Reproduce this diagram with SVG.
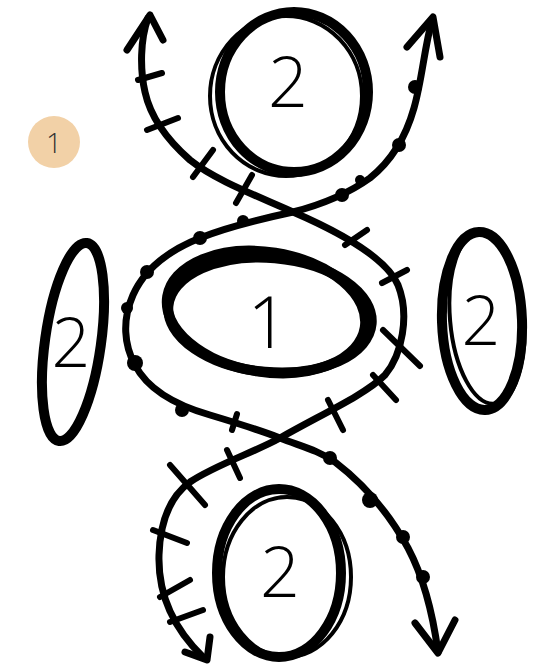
<svg xmlns="http://www.w3.org/2000/svg" width="549" height="670" viewBox="0 0 549 670">
<style>
.ring{fill:none;stroke:#000;stroke-width:10;stroke-linecap:round}
.ring2{fill:none;stroke:#000;stroke-width:4}
.path{fill:none;stroke:#000;stroke-width:7;stroke-linecap:round;stroke-linejoin:round}
.tick{stroke:#000;stroke-width:6;stroke-linecap:round}
.dot{fill:#000}
.num{font-family:"Open Sans","DejaVu Sans",sans-serif;font-weight:300;fill:#000;text-anchor:middle}
</style>
<rect width="549" height="670" fill="#fff"/>
<g id="badge">
<circle cx="54" cy="142" r="26" fill="#f2d1a7"/>
<text x="54" y="153" font-family="Open Sans, DejaVu Sans, sans-serif" font-weight="300" font-size="28" fill="#333" text-anchor="middle">1</text>
</g>
<g id="top2">
<ellipse cx="294" cy="92" rx="74" ry="80" class="ring" stroke-width="12"/>
<ellipse cx="286" cy="96" rx="76" ry="80" class="ring2"/>
<text x="288" y="107" font-size="70" class="num">2</text>
</g>
<g id="mid1">
<ellipse cx="270" cy="315" rx="102" ry="57" transform="rotate(5 270 315)" class="ring" stroke-width="13"/>
<ellipse cx="266" cy="312" rx="100" ry="60" transform="rotate(9 266 312)" class="ring" stroke-width="6"/>
<text x="268" y="348" font-size="72" class="num">1</text>
</g>
<g id="left2">
<ellipse cx="73" cy="342" rx="28" ry="100" transform="rotate(8 73 342)" class="ring" stroke-width="11"/>
<text x="71" y="367" font-size="68" class="num">2</text>
</g>
<g id="right2">
<ellipse cx="482" cy="321" rx="40" ry="89" transform="rotate(-2 482 321)" class="ring"/>
<ellipse cx="487" cy="318" rx="37" ry="86" transform="rotate(-5 487 318)" class="ring2"/>
<text x="481" y="345" font-size="68" class="num">2</text>
</g>
<g id="bottom2">
<ellipse cx="279" cy="573" rx="62" ry="84" class="ring" stroke-width="12"/>
<ellipse cx="287" cy="577" rx="64" ry="80" class="ring2"/>
<text x="280" y="597" font-size="70" class="num">2</text>
</g>
<g id="connectors">
<path class="path" d="M148,18 C140,40 140,70 145,92 C150,115 165,138 190,160 C215,180 255,195 293,212 C330,228 385,255 398,285 C410,315 402,355 385,375 C365,395 320,415 280,438 C255,452 215,465 190,482 C168,498 160,525 159,555 C158,590 170,625 203,657"/>
<path class="path" d="M127,50 L150,15 L163,40"/>
<path class="path" d="M185,652 L207,660 L210,637"/>
<path class="path" d="M432,20 C424,50 422,80 414,108 C405,140 390,162 370,178 C345,196 320,205 293,212 C265,218 230,226 200,238 C170,250 145,268 133,295 C122,320 124,345 135,365 C148,390 175,405 210,415 C240,424 262,431 280,438 C300,446 318,450 335,462 C365,485 390,515 408,548 C425,580 433,615 438,652"/>
<path class="path" d="M407,47 L433,17 L440,57"/>
<path class="path" d="M415,623 L438,653 L455,620"/>
<line class="tick" x1="138" y1="80" x2="162" y2="73"/>
<line class="tick" x1="147" y1="130" x2="178" y2="118"/>
<line class="tick" x1="193" y1="177" x2="213" y2="150"/>
<line class="tick" x1="236" y1="203" x2="252" y2="175"/>
<line class="tick" x1="345" y1="245" x2="367" y2="230"/>
<line class="tick" x1="382" y1="283" x2="407" y2="270"/>
<line class="tick" x1="383" y1="330" x2="420" y2="366"/>
<line class="tick" x1="373" y1="375" x2="396" y2="400"/>
<line class="tick" x1="328" y1="400" x2="343" y2="430"/>
<line class="tick" x1="227" y1="450" x2="240" y2="478"/>
<line class="tick" x1="170" y1="465" x2="205" y2="505"/>
<line class="tick" x1="153" y1="530" x2="187" y2="543"/>
<line class="tick" x1="160" y1="597" x2="190" y2="580"/>
<line class="tick" x1="170" y1="622" x2="203" y2="610"/>
<line class="tick" x1="232" y1="430" x2="237" y2="414"/>
<circle class="dot" cx="415" cy="87" r="7"/>
<circle class="dot" cx="399" cy="145" r="7"/>
<circle class="dot" cx="360" cy="180" r="5"/>
<circle class="dot" cx="342" cy="195" r="7"/>
<circle class="dot" cx="243" cy="221" r="6"/>
<circle class="dot" cx="200" cy="238" r="7"/>
<circle class="dot" cx="147" cy="272" r="7"/>
<circle class="dot" cx="127" cy="308" r="6"/>
<circle class="dot" cx="135" cy="363" r="8"/>
<circle class="dot" cx="182" cy="410" r="7"/>
<circle class="dot" cx="330" cy="458" r="7"/>
<circle class="dot" cx="370" cy="500" r="8"/>
<circle class="dot" cx="403" cy="537" r="7"/>
<circle class="dot" cx="423" cy="577" r="7"/>
</g>
</svg>
